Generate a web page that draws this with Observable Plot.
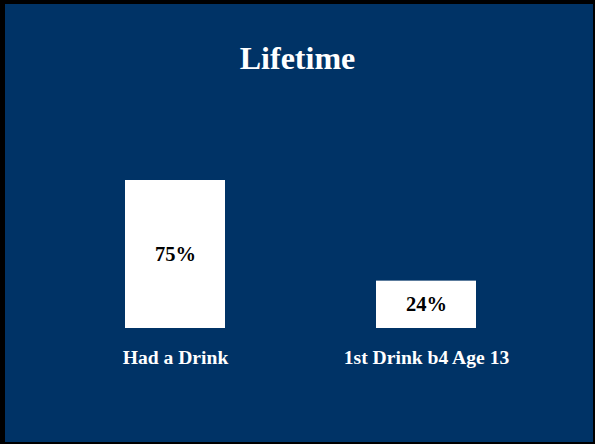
<!DOCTYPE html>
<html>
<head>
<meta charset="utf-8">
<script src="https://cdn.jsdelivr.net/npm/d3@7"></script>
<script src="https://cdn.jsdelivr.net/npm/@observablehq/plot@0.6"></script>
<style>
  html, body { margin: 0; padding: 0; }
  body { width: 595px; height: 444px; background: #003366; overflow: hidden; position: relative; font-family: "Liberation Serif", "Times New Roman", serif; }
  #title { height: 100px; box-sizing: border-box; padding-top: 42px; text-align: center; color: white; font-weight: bold; font-size: 32px; line-height: 32px; }
  #frame { position: absolute; left: 0; top: 0; width: 595px; height: 444px; box-sizing: border-box; border-style: solid; border-color: #000; border-width: 4px 2px 2px 5px; pointer-events: none; }
  svg { display: block; }
</style>
</head>
<body>
<div id="title">Lifetime</div>
<div id="chart"></div>
<div id="frame"></div>
<script>
const categories = ["Had a Drink", "1st Drink b4 Age 13"];
const values = [75, 24];

const data = categories.map((c, i) => ({category: c, value: values[i]}));

const plot = Plot.plot({
  width: 595,
  height: 344,
  marginTop: 30.67,
  marginBottom: 116,
  marginLeft: 0,
  marginRight: 0,
  style: {background: "transparent", fontFamily: "Liberation Serif, Times New Roman, serif", color: "white"},
  x: {domain: categories, range: [49.7, 551.7], paddingInner: 0.6, paddingOuter: 0.3, label: null},
  y: {domain: [0, 100], range: [228, 30.67], axis: null},
  marks: [
    Plot.barY(data, {x: "category", y: "value", fill: "white"}),
    Plot.text(data, {x: "category", y: d => d.value / 2, text: d => d.value + "%", fill: "black", fontSize: 20.5, fontWeight: "bold"}),
    Plot.axisX({tickSize: 0, tickPadding: 22, fontSize: 19.6, fontWeight: "bold", fill: "white", label: null})
  ]
});
document.getElementById("chart").appendChild(plot);
</script>
</body>
</html>
